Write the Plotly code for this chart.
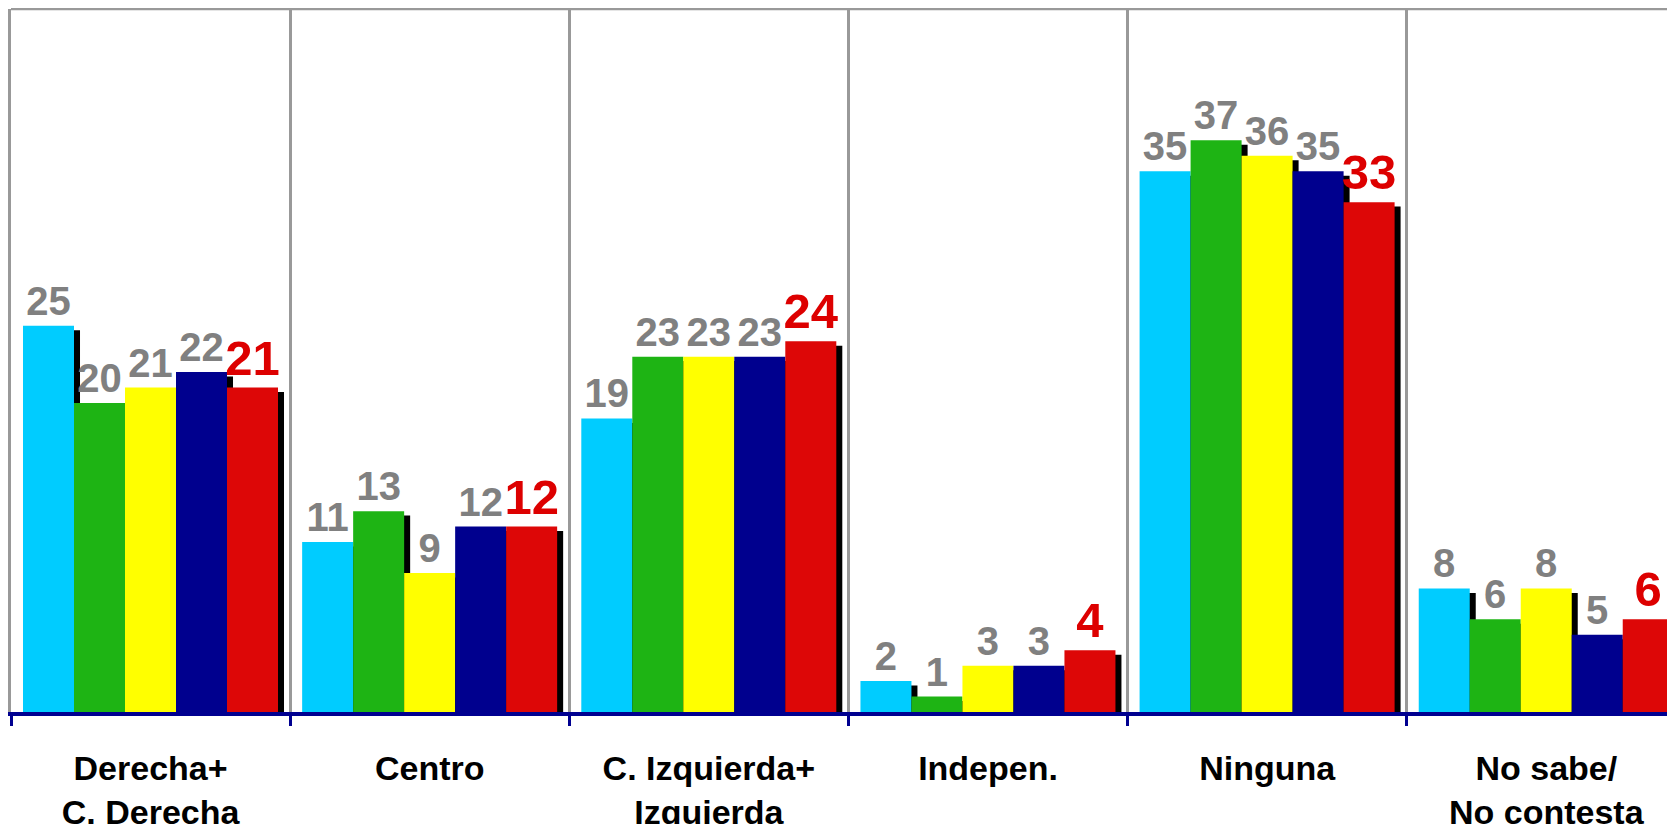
import plotly.graph_objects as go

# ── Data ──────────────────────────────────────────────────────────────────────
categories = ["Derecha+<br>C. Derecha", "Centro", "C. Izquierda+<br>Izquierda",
              "Indepen.", "Ninguna", "No sabe/<br>No contesta"]
serie_1 = [25, 11, 19, 2, 35, 8]
serie_2 = [20, 13, 23, 1, 37, 6]
serie_3 = [21, 9, 23, 3, 36, 8]
serie_4 = [22, 12, 23, 3, 35, 5]
serie_5 = [21, 12, 24, 4, 33, 6]
series_names = ["Serie 1", "Serie 2", "Serie 3", "Serie 4", "Serie 5"]

# ── Styling ───────────────────────────────────────────────────────────────────
_COLORS = ["#00CCFF", "#1EB414", "#FFFF00", "#00008E", "#DD0707"]
_LABEL_GRAY = "#808080"
_LABEL_RED = "#DD0000"
_FONT = "Arial, Liberation Sans, sans-serif"

BAR_W = 0.1827        # bar width in category units
EDGE = 0.043          # gap between category edge and first bar
SHADOW_DX = 0.0215    # drop-shadow shift to the right
SHADOW_DY = 0.29      # drop-shadow shift downwards

series = [serie_1, serie_2, serie_3, serie_4, serie_5]
xs = list(range(len(categories)))

fig = go.Figure()

# black drop shadows first, so the coloured bars sit on top
for k, vals in enumerate(series):
    fig.add_trace(go.Bar(
        x=xs, y=[v - SHADOW_DY for v in vals],
        width=BAR_W, offset=-0.5 + EDGE + k * BAR_W + SHADOW_DX,
        marker=dict(color="black", line=dict(width=0)),
        hoverinfo="skip", showlegend=False,
    ))

for k, vals in enumerate(series):
    last = k == len(series) - 1
    fig.add_trace(go.Bar(
        x=xs, y=vals, name=series_names[k],
        width=BAR_W, offset=-0.5 + EDGE + k * BAR_W,
        marker=dict(color=_COLORS[k], line=dict(width=0)),
        text=[str(v) for v in vals],
        textposition="outside",
        constraintext="none",
        cliponaxis=False,
        textfont=dict(family=_FONT, size=49 if last else 40,
                      color=_LABEL_RED if last else _LABEL_GRAY,
                      weight="bold"),
        showlegend=False,
    ))

n = len(categories)
# page body keeps its default 8px margin, so the figure is 8px smaller
fig.update_layout(
    barmode="overlay",
    width=1667, height=816,
    margin=dict(l=3, r=0, t=1, b=112, autoexpand=False),
    plot_bgcolor="white", paper_bgcolor="white",
    font=dict(family=_FONT, color="black"),
    xaxis=dict(
        range=[-0.5, 5.461], automargin=False,
        tickmode="array", tickvals=xs, ticktext=categories,
        ticks="", showgrid=False, zeroline=False,
        showline=True, linecolor="#000090", linewidth=4,
        tickfont=dict(family=_FONT, size=34, color="black", weight="bold"),
        ticklabelstandoff=23,
        minor=dict(tickmode="array", tickvals=[i - 0.5 for i in range(n + 1)],
                   ticks="outside", ticklen=10, tickwidth=3, tickcolor="#000090",
                   showgrid=True, gridcolor="#999999", gridwidth=2.5),
    ),
    yaxis=dict(
        range=[0, 45.5], showgrid=False, zeroline=False, automargin=False,
        showticklabels=False, ticks="",
        showline=True, linecolor="#999999", linewidth=2.5, mirror=True,
    ),
    shapes=[dict(type="line", xref="paper", yref="paper", x0=0, x1=1, y0=1, y1=1,
                 line=dict(color="#999999", width=2.5))],
)

fig.write_html("out.html")
